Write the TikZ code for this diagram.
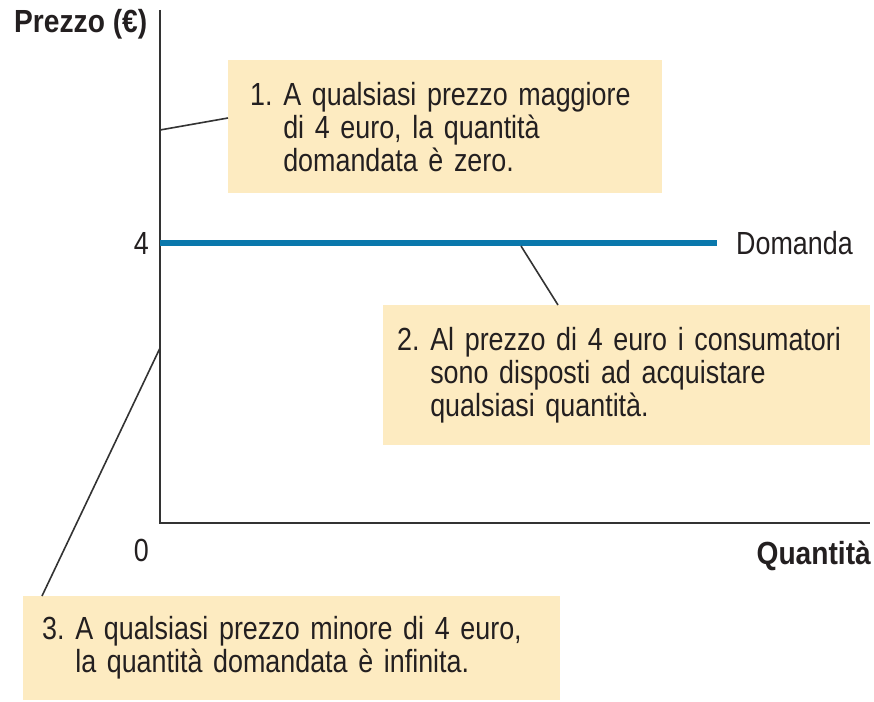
\documentclass[tikz,border=0pt]{standalone}
\usepackage{fontspec}
\setmainfont{Liberation Sans}[FakeStretch=0.84]
\newfontfamily\boldcond{Liberation Sans Bold}[FakeStretch=0.88]
\definecolor{boxfill}{HTML}{FDEBC1}
\definecolor{demblue}{HTML}{0A78AC}
\definecolor{axisgray}{HTML}{333333}
\definecolor{txt}{HTML}{231F20}
\begin{document}
\frenchspacing
\begin{tikzpicture}[x=1pt,y=-1pt,
  every node/.style={text=txt, font=\fontsize{32}{33}\selectfont},
  notebox/.style={fill=boxfill, draw=none, anchor=north west, align=left, inner ysep=0pt},
  axisline/.style={draw=axisgray, line width=2.8pt},
  leader/.style={draw=axisgray, line width=1.6pt},
  lbl/.style={inner sep=0pt},
  boldlbl/.style={inner sep=0pt, font=\fontsize{32}{33}\selectfont\boldcond}]
\useasboundingbox (0,0) rectangle (874,701);
% axes
\coordinate (ytop) at (160,10);
\coordinate (orig) at (160,523);
\coordinate (xend) at (870,523);
\draw[axisline] (ytop) -- (orig) -- (xend);
% demand
\coordinate (d0) at (160,243);
\coordinate (d1) at (717,243);
\draw[demblue, line width=6.5pt] (d0) -- (d1);
\node[lbl, anchor=west] (dom) at (736,243) {Domanda};
\node[lbl, anchor=east] (four) at (149,243) {4};
\node[lbl, anchor=east] (zero) at (149,550) {0};
\node[boldlbl, anchor=west] (py) at (14,24) {Prezzo (€)};
\node[boldlbl, anchor=east] (qx) at (871,556) {Quantità};
% boxes
\node[notebox, inner xsep=22pt, text width=390pt, minimum height=133pt] (b1) at (228,60)
  {1. A qualsiasi prezzo maggiore\\\hphantom{1. }di 4 euro, la quantità\\\hphantom{1. }domandata è zero.};
\node[notebox, inner xsep=14pt, text width=459pt, minimum height=140pt] (b2) at (383,305)
  {2. Al prezzo di 4 euro i consumatori\\\hphantom{2. }sono disposti ad acquistare\\\hphantom{2. }qualsiasi quantità.};
\node[notebox, inner xsep=19pt, text width=499pt, minimum height=104pt] (b3) at (23,596)
  {3. A qualsiasi prezzo minore di 4 euro,\\\hphantom{3. }la quantità domandata è infinita.};
% leaders
\coordinate (l1a) at (160,130);
\coordinate (l1b) at (228,118);
\draw[leader] (l1a) -- (l1b);
\coordinate (l2a) at (521,246);
\coordinate (l2b) at (558,305);
\draw[leader] (l2a) -- (l2b);
\coordinate (l3a) at (160,348);
\coordinate (l3b) at (42,596);
\draw[leader] (l3a) -- (l3b);
\end{tikzpicture}
\end{document}
